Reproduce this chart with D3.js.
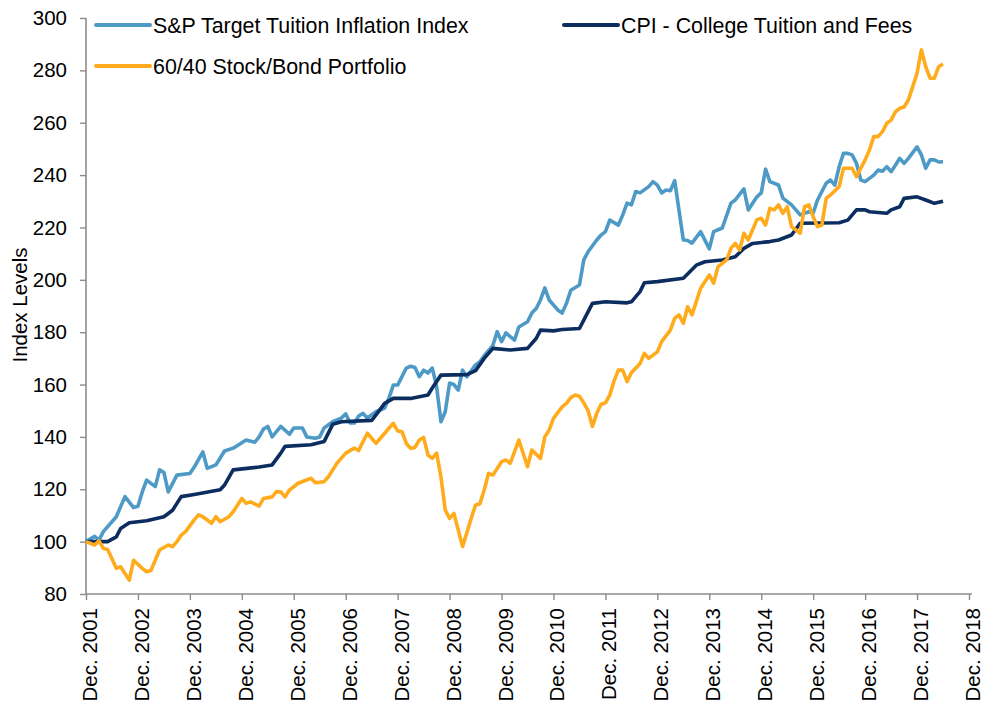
<!DOCTYPE html>
<html>
<head>
<meta charset="utf-8">
<script src="https://cdn.jsdelivr.net/npm/d3@7"></script>
<style>
  body { margin: 0; background: #fff; }
  svg { display: block; font-family: "Liberation Sans", Arial, sans-serif; }
</style>
</head>
<body>
<script>
(function () {

// month index = months after Dec. 2001, value = index level
var tuition = [[0,100],[2,102],[3,100.6],[4,103.8],[7,109.5],[9,117.2],[11,113],[12,113.5],[13,119],[14,123.5],[16,121],[17,127.4],[18,126.4],[19,119],[21,125.4],[24,126],[25,128.5],[27,134.3],[28,128],[30,129.3],[32,134.6],[34,135.7],[37,138.8],[39,138],[40,140],[41,143],[42,144],[43,140],[45,144],[47,141],[48,143.4],[50,143.4],[51,140],[53,139.5],[54,140],[55,143.4],[57,145.8],[59,147.2],[60,148.8],[61,145.3],[62,145.3],[63,148],[64,149],[65,147.2],[67,149.6],[69,151],[70,154.9],[71,159.8],[72,159.8],[74,166.3],[75,167],[76,166.5],[77,163],[78,165.5],[79,164.4],[80,166.3],[81,159.2],[82,145.8],[83,149.6],[84,160.6],[85,160],[86,157.9],[87,165.5],[88,163],[90,167.5],[91,168.7],[92,171],[94,175],[95,180.2],[96,176.4],[97,179.7],[99,177],[100,182],[102,184],[103,187.3],[104,189],[105,192.3],[106,196.9],[107,192.3],[109,188.5],[110,187.3],[111,191],[112,196],[114,198],[115,207.6],[116,210.7],[118,215.2],[119,217.1],[120,218.4],[121,222.8],[123,220.9],[124,224.8],[125,229.3],[126,228.6],[127,233.7],[128,233.2],[130,235.6],[131,237.5],[132,236.2],[133,233.2],[134,234.3],[135,234],[136,237.9],[138,215.2],[139,215],[140,214],[142,218.4],[144,211.8],[145,218.4],[147,219.8],[149,229.3],[150,230.5],[152,234.7],[153,226.7],[155,231.7],[156,233.2],[157,242.3],[158,237.5],[160,236.2],[161,231.2],[163,228.6],[164,226.7],[165,224.8],[167,226],[168,225.5],[169,230.5],[171,236.9],[172,238.1],[173,236.2],[174,243.2],[175,248.3],[176,248.3],[177,247.7],[178,244.5],[179,238.1],[180,237.5],[182,240],[183,241.9],[184,241.5],[185,243.2],[186,241.3],[187,243.8],[188,246.4],[189,244.5],[190,246.4],[192,250.8],[193,247.7],[194,242.6],[195,245.8],[196,245.8],[197,245],[198,245.1]];

var cpi = [[0,100],[5,100],[7,101.8],[8,105],[10,107.2],[14,108],[18,109.5],[20,112],[22,117.2],[25,118],[31,119.8],[32,121.6],[34,127.4],[40,128.5],[43,129.3],[45,133.8],[46,136.4],[52,137],[55,138.2],[57,144.8],[59,145.8],[66,146.3],[67,148.4],[69,152.8],[71,154.7],[75,154.7],[79,156],[80,158.7],[82,163.6],[88,163.8],[90,165.3],[92,170],[94,173.8],[98,173.2],[102,173.8],[104,177.6],[105,180.8],[108,180.5],[110,181],[114,181.4],[115,184.6],[117,191],[120,191.6],[125,191.2],[126,191.6],[128,195.5],[129,198.9],[132,199.3],[138,200.6],[141,205.6],[143,206.9],[147,207.6],[150,208.8],[152,212],[154,213.9],[158,214.6],[160,215.2],[163,217.1],[165,221.6],[174,221.8],[176,222.8],[178,226.7],[180,226.7],[181,226],[185,225.4],[186,226.7],[188,227.9],[189,231.1],[192,231.7],[194,230.5],[196,229.2],[198,230]];

var portfolio = [[0,100],[2,98.7],[3,100.3],[4,97.4],[5,97],[7,89.8],[8,90.4],[10,85.3],[11,92.9],[13,89.8],[14,88.5],[15,89],[17,96.8],[19,98.7],[20,98.1],[21,100],[22,102.5],[23,103.8],[25,108.3],[26,110.2],[27,109.5],[29,107],[30,109.5],[31,107.6],[33,109.5],[34,111.4],[36,116.5],[37,114.6],[38,115.2],[40,113.6],[41,116.5],[43,117.1],[44,119.1],[45,119],[46,117.1],[47,119.7],[49,122.3],[52,124.2],[53,122.5],[55,122.9],[56,124.8],[58,130],[60,133.8],[62,135.7],[63,134.8],[64,138.2],[65,141.4],[67,137.5],[69,141.4],[71,145.2],[72,142.3],[73,142],[74,137.5],[75,135.6],[76,136],[77,138.8],[78,139.8],[79,133.1],[80,131.8],[81,133.8],[82,124.8],[83,112],[84,108.9],[85,110.8],[87,98.1],[89,108.9],[90,114],[91,114.5],[92,119.7],[93,126.1],[94,125.4],[96,130.5],[97,131.2],[98,129.9],[100,138.8],[102,128.6],[103,135],[105,131.8],[106,140],[107,142.6],[108,147.1],[110,151.5],[111,152.8],[112,155],[113,156],[114,155.5],[115,153],[116,150],[117,144],[118,149],[119,152.5],[120,153],[121,156],[122,161.4],[123,165.5],[124,165.5],[125,161.1],[126,164.5],[128,168],[129,171.9],[130,170],[132,172.5],[133,176.4],[135,180.8],[136,185.3],[137,186.6],[138,183.4],[139,189.7],[140,186.6],[142,196.8],[144,201.8],[145,198.7],[146,205],[148,207.6],[149,212],[150,213.9],[151,211.4],[152,217.8],[153,215.2],[155,223],[156,223.5],[157,220.9],[158,227.3],[159,226.7],[160,228.6],[161,225.4],[162,227.9],[163,220.3],[165,217.8],[166,227.9],[167,228.6],[168,224.1],[169,220.3],[170,220.9],[171,231.1],[172,232.4],[174,235.6],[175,242.6],[177,242.6],[178,239.4],[180,245.8],[181,249.6],[182,254.7],[183,254.7],[184,256.6],[185,259.8],[186,261],[187,264.2],[188,265.5],[189,266],[190,268.7],[191,273.8],[192,278.9],[193,287.8],[194,281.4],[195,277],[196,277],[197,281.4],[198,282.4]];

var seriesNames = ["S&P Target Tuition Inflation Index", "CPI - College Tuition and Fees", "60/40 Stock/Bond Portfolio"];
var xTickMonths = [0,12,24,36,48,60,72,84,96,108,120,132,144,156,168,180,192,204];
var xTickLabels = ["Dec. 2001","Dec. 2002","Dec. 2003","Dec. 2004","Dec. 2005","Dec. 2006","Dec. 2007","Dec. 2008","Dec. 2009","Dec. 2010","Dec. 2011","Dec. 2012","Dec. 2013","Dec. 2014","Dec. 2015","Dec. 2016","Dec. 2017","Dec. 2018"];
var yTicks = [80,100,120,140,160,180,200,220,240,260,280,300];

var width = 988;
var height = 702;

var colors = ["#4e9ac6", "#0c2d5f", "#ffab1c"];

var svg = d3.select("body")
  .append("svg")
    .attr("width", width)
    .attr("height", height);

var x = d3.scaleLinear().domain([0, 204]).range([86, 969]);
var y = d3.scaleLinear().domain([80, 300]).range([594, 18]);

// y axis
var yAxis = svg.append("g")
    .attr("transform", "translate(86,0)")
    .call(d3.axisLeft(y).tickValues(yTicks).tickSize(6).tickPadding(13));
yAxis.select(".domain").attr("stroke", "#8c8c8c").attr("stroke-width", 1.6).attr("d", "M0,18V594");
yAxis.selectAll(".tick line").attr("stroke", "#8c8c8c").attr("stroke-width", 1.4);
yAxis.selectAll(".tick text")
    .attr("fill", "#000")
    .style("font-size", "20.5px");

// x axis
var xAxis = svg.append("g")
    .attr("transform", "translate(0,594)")
    .call(d3.axisBottom(x).tickValues(xTickMonths).tickSize(6)
      .tickFormat(function(d, i) { return xTickLabels[i]; }));
xAxis.select(".domain").attr("stroke", "#8c8c8c").attr("stroke-width", 1.6).attr("d", "M86,0H972");
xAxis.selectAll(".tick line").attr("stroke", "#8c8c8c").attr("stroke-width", 1.4);
xAxis.selectAll(".tick text")
    .attr("fill", "#000")
    .style("font-size", "20.5px")
    .attr("text-anchor", "end")
    .attr("transform", "translate(10.5,14) rotate(-90)")
    .attr("x", 0)
    .attr("y", 0)
    .attr("dy", 0);

svg.append("text")
    .attr("transform", "translate(27,305) rotate(-90)")
    .attr("text-anchor", "middle")
    .style("font-size", "20.5px")
    .text("Index Levels");

var line = d3.line()
    .x(function(d) { return x(d[0]); })
    .y(function(d) { return y(d[1]); });

[tuition, cpi, portfolio].forEach(function(s, i) {
  svg.append("path")
      .datum(s)
      .attr("fill", "none")
      .attr("stroke", colors[i])
      .attr("stroke-width", 3.6)
      .attr("stroke-linejoin", "round")
      .attr("d", line);
});

// legend
var legendPos = [[96, 25], [564, 25], [96, 66]];
var legend = svg.selectAll(".legend")
    .data(seriesNames)
    .enter()
    .append("g")
    .attr("class", "legend")
    .attr("transform", function(d, i) { return "translate(" + legendPos[i][0] + "," + legendPos[i][1] + ")"; });

legend.append("line")
    .attr("x1", 0).attr("x2", 54)
    .attr("stroke", function(d, i) { return colors[i]; })
    .attr("stroke-width", 4)
    .attr("stroke-linecap", "round");

legend.append("text")
    .attr("x", 57)
    .attr("dy", "0.36em")
    .style("font-size", "21.4px")
    .text(function(d) { return d; });

}());
</script>
</body>
</html>
